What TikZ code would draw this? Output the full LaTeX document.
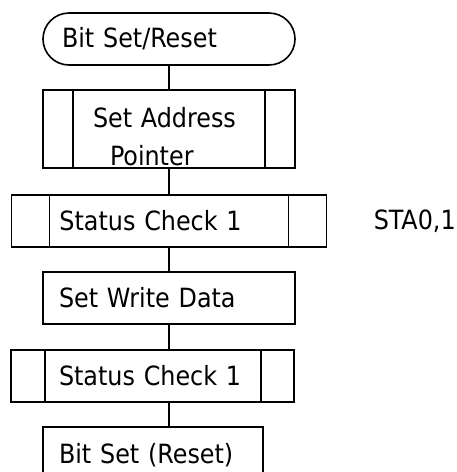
\documentclass[tikz,border=0pt]{standalone}
\usepackage{fontspec}
\setmainfont{DejaVu Sans Condensed}
\usetikzlibrary{positioning}

\begin{document}
\begin{tikzpicture}[
		x=1pt, y=-1pt,
		every node/.style={font=\fontsize{26.5}{38}\selectfont, outer sep=0pt},
		term/.style={rectangle, draw, line width=1.6pt, rounded corners=26pt, minimum height=52pt, text width=214pt, inner xsep=19pt, align=left},
		box/.style={rectangle, draw, line width=1.6pt, minimum height=52pt, inner ysep=0pt, align=left},
		line/.style={line width=1.6pt}
		]
		\useasboundingbox (0,0) rectangle (456,472);
		
		% Main flow
		\node[term] (start) at (169,39) {Bit Set/Reset};
		\node[box, below=25pt of start, text width=152pt, inner xsep=50pt, minimum height=78pt] (addr) {\rule{0pt}{36pt}Set Address\\\hspace*{17pt}Pointer};
		\node[box, below=27pt of addr, text width=219pt, inner xsep=48pt] (chk1) {Status Check 1};
		\node[right=44pt of chk1] (sta) {STA0,1};
		\node[box, below=25pt of chk1, text width=220pt, inner xsep=16pt] (write) {Set Write Data};
		\node[box, below=26pt of write.south west, anchor=north west, xshift=-32pt, text width=187pt, inner xsep=48pt] (chk2) {Status Check 1};
		\node[box, below=25pt of chk2.south west, anchor=north west, xshift=32pt, text width=188pt, inner xsep=16pt, minimum height=56pt] (bitset) {Bit Set (Reset)};
		
		% Sub-routine side bars
		\foreach \n/\l/\r in {addr/30/30, chk1/38/38, chk2/34/33} {
			\draw[line] ([xshift=\l pt]\n.north west) -- ([xshift=\l pt]\n.south west);
			\draw[line] ([xshift=-\r pt]\n.north east) -- ([xshift=-\r pt]\n.south east);
		}
		
		% Lines
		\draw[line] (start) -- (addr);
		\draw[line] (addr) -- (chk1);
		\draw[line] (chk1) -- (write);
		\draw[line] (write) -- (write.south |- chk2.north);
		\draw[line] (write.south |- chk2.south) -- (write.south |- bitset.north);
		
	\end{tikzpicture}
\end{document}
